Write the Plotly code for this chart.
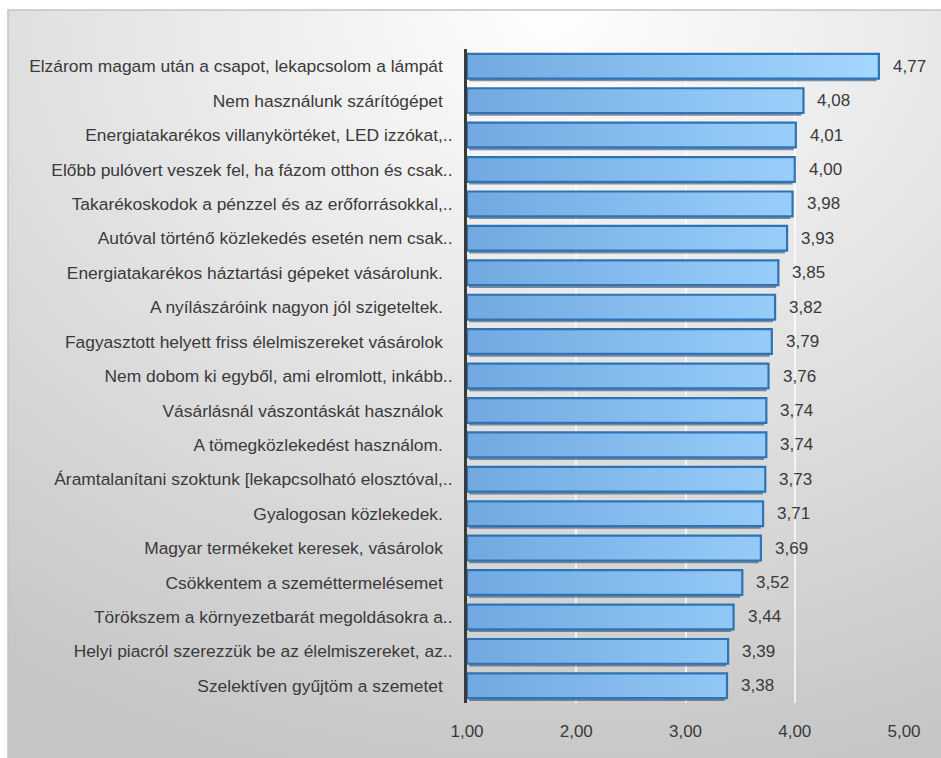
import base64
import plotly.graph_objects as go

# Survey items (top to bottom) and their mean scores on a 1-5 scale
labels = [
    "Elzárom magam után a csapot, lekapcsolom a lámpát",
    "Nem használunk szárítógépet",
    "Energiatakarékos villanykörtéket, LED izzókat,..",
    "Előbb pulóvert veszek fel, ha fázom otthon és csak..",
    "Takarékoskodok a pénzzel és az erőforrásokkal,..",
    "Autóval történő közlekedés esetén nem csak..",
    "Energiatakarékos háztartási gépeket vásárolunk.",
    "A nyílászáróink nagyon jól szigeteltek.",
    "Fagyasztott helyett friss élelmiszereket vásárolok",
    "Nem dobom ki egyből, ami elromlott, inkább..",
    "Vásárlásnál vászontáskát használok",
    "A tömegközlekedést használom.",
    "Áramtalanítani szoktunk [lekapcsolható elosztóval,..",
    "Gyalogosan közlekedek.",
    "Magyar termékeket keresek, vásárolok",
    "Csökkentem a szeméttermelésemet",
    "Törökszem a környezetbarát megoldásokra a..",
    "Helyi piacról szerezzük be az élelmiszereket, az..",
    "Szelektíven gyűjtöm a szemetet",
]
values = [4.77, 4.08, 4.01, 4.00, 3.98, 3.93, 3.85, 3.82, 3.79, 3.76,
          3.74, 3.74, 3.73, 3.71, 3.69, 3.52, 3.44, 3.39, 3.38]
x_ticks = [1, 2, 3, 4, 5]

FONT = "Liberation Sans, Arial, sans-serif"
TEXT = "#3a3a3a"
n = len(labels)
pos = list(range(n))
half = 0.36  # half bar thickness in category units

# untruncated labels carry a little trailing padding
tick_text = [t if t.endswith("..") else t + "\u00a0\u00a0" for t in labels]

fig = go.Figure()

# dark underside of each bar
sx, sy = [], []
for i, v in zip(pos, values):
    sx += [1.02, v - 0.02, v - 0.02, 1.02, 1.02, None]
    sy += [i + half - 0.02, i + half - 0.02, i + half + 0.08, i + half + 0.08,
           i + half - 0.02, None]
fig.add_trace(go.Scatter(
    x=sx, y=sy, mode="lines", fill="toself", fillcolor="rgba(45,75,110,0.6)",
    line=dict(width=0), hoverinfo="skip", showlegend=False,
))

# bar outlines built from the values, filled with a horizontal gradient
xs, ys = [], []
for i, v in zip(pos, values):
    xs += [1, v, v, 1, 1, None]
    ys += [i - half, i - half, i + half, i + half, i - half, None]
fig.add_trace(go.Scatter(
    x=xs, y=ys, mode="lines", fill="toself",
    fillgradient=dict(type="horizontal", start=1, stop=4.8,
                      colorscale=[[0, "#71a9e0"], [0.5, "#8bc1f2"], [1, "#a5d8ff"]]),
    line=dict(color="#2e74b5", width=2.2),
    hoverinfo="skip", showlegend=False,
))

# value labels beside each bar
annotations = [
    dict(x=v, y=i, xref="x", yref="y", text=f"{v:.2f}".replace(".", ","),
         showarrow=False, xanchor="left", xshift=12,
         font=dict(family=FONT, size=17, color=TEXT))
    for i, v in zip(pos, values)
]

# light gradient panel behind the chart
svg = (
    "<svg xmlns='http://www.w3.org/2000/svg' width='940' height='750' "
    "preserveAspectRatio='none'>"
    "<defs><radialGradient id='g' cx='0.58' cy='0' r='1.05'>"
    "<stop offset='0' stop-color='#fefefe'/>"
    "<stop offset='0.45' stop-color='#e5e5e5'/>"
    "<stop offset='1' stop-color='#c5c5c5'/>"
    "</radialGradient></defs>"
    "<rect width='940' height='750' fill='url(#g)'/></svg>"
)
bg_src = "data:image/svg+xml;base64," + base64.b64encode(svg.encode()).decode()

L, R, T, B = 467, 37, 49, 55
W, H = 941, 758
pw, ph = W - L - R, H - T - B


def px_x(p):
    return (p - L) / pw


def px_y(p):
    return (H - B - p) / ph


fig.update_layout(
    width=W, height=H,
    margin=dict(l=L, r=R, t=T, b=B),
    paper_bgcolor="white",
    plot_bgcolor="rgba(0,0,0,0)",
    separators=", ",
    font=dict(family=FONT, size=17, color=TEXT),
    showlegend=False,
    hovermode=False,
    annotations=annotations,
    images=[dict(source=bg_src, xref="paper", yref="paper",
                 x=px_x(8), y=px_y(10), sizex=px_x(945) - px_x(8),
                 sizey=px_y(10) - px_y(762), sizing="stretch",
                 xanchor="left", yanchor="top", layer="below")],
    shapes=[dict(type="rect", xref="paper", yref="paper",
                 x0=px_x(8), x1=px_x(950), y0=px_y(770), y1=px_y(10),
                 line=dict(color="#c4c4c4", width=1.5), layer="below")],
    xaxis=dict(
        range=[1, 5], tickvals=x_ticks, tickformat=".2f",
        showgrid=True, gridcolor="rgba(255,255,255,0.7)", gridwidth=1.5,
        zeroline=False, showline=False, ticks="",
        ticklabelstandoff=16,
        tickfont=dict(family=FONT, size=17, color=TEXT),
        fixedrange=True,
    ),
    yaxis=dict(
        range=[n - 0.5, -0.5], tickvals=pos, ticktext=tick_text,
        showgrid=False, zeroline=False,
        showline=True, linecolor="#3a3a3a", linewidth=3,
        ticks="", ticklabelstandoff=8,
        tickfont=dict(family=FONT, size=17.4, color=TEXT),
        fixedrange=True,
    ),
)

fig.write_html("out.html")
